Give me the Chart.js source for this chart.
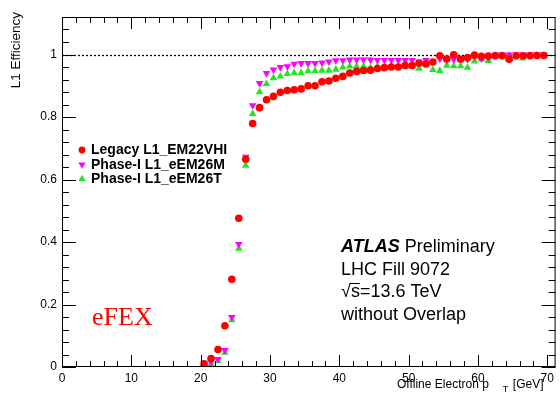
<!DOCTYPE html>
<html>
<head>
<meta charset="utf-8">
<script src="https://cdn.jsdelivr.net/npm/chart.js@4.4.1/dist/chart.umd.min.js"></script>
<style>
    html, body { margin: 0; padding: 0; background: #fff; }
    #eff { display: block; }
</style>
</head>
<body>
<canvas id="eff" width="560" height="398"></canvas>
<script>
// Offline electron pT bin centres [GeV]
var ptBins = [20.5, 21.5, 22.5, 23.5, 24.5, 25.5, 26.5, 27.5, 28.5, 29.5,
    30.5, 31.5, 32.5, 33.5, 34.5, 35.5, 36.5, 37.5, 38.5, 39.5,
    40.5, 41.5, 42.5, 43.5, 44.5, 45.5, 46.5, 47.5, 48.5, 49.5,
    50.5, 51.5, 52.5, 53.5, 54.5, 55.5, 56.5, 57.5, 58.5, 59.5,
    60.5, 61.5, 62.5, 63.5, 64.5, 65.5, 66.5, 67.5, 68.5, 69.5];

// L1 efficiency per trigger
var legacyEM22VHI = [0.010, 0.027, 0.056, 0.132, 0.281, 0.476, 0.665, 0.779, 0.830, 0.855,
    0.866, 0.879, 0.885, 0.887, 0.890, 0.900, 0.900, 0.913, 0.915, 0.924,
    0.930, 0.941, 0.946, 0.949, 0.950, 0.955, 0.958, 0.960, 0.960, 0.965,
    0.965, 0.972, 0.970, 0.976, 0.996, 0.986, 0.999, 0.985, 0.990, 0.998,
    0.994, 0.995, 0.996, 0.996, 0.985, 0.996, 0.996, 0.996, 0.997, 0.997];
var phase1EM26M = [0.012, 0.016, 0.025, 0.054, 0.159, 0.393, 0.672, 0.837, 0.908, 0.940,
    0.951, 0.959, 0.962, 0.970, 0.972, 0.972, 0.972, 0.974, 0.977, 0.981,
    0.981, 0.983, 0.983, 0.983, 0.983, 0.982, 0.982, 0.982, 0.982, 0.982,
    0.982, 0.977, 0.982, 0.977, 0.986, 0.984, 0.984, 0.988, 0.985, 0.993,
    0.987, 0.990, 0.999, 0.999, 0.999, 0.999, 0.999, 0.999, 0.999, 0.999];
var phase1EM26T = [0.006, 0.010, 0.019, 0.046, 0.150, 0.379, 0.645, 0.810, 0.880, 0.906,
    0.925, 0.930, 0.938, 0.941, 0.941, 0.947, 0.947, 0.949, 0.949, 0.952,
    0.959, 0.962, 0.962, 0.962, 0.958, 0.962, 0.958, 0.962, 0.960, 0.962,
    0.962, 0.955, 0.972, 0.951, 0.948, 0.965, 0.963, 0.963, 0.958, 0.978,
    0.985, 0.980, 0.997, 0.997, 0.997, 0.997, 0.988, 0.997, 0.997, 0.997];

// axis labels
var xTickValues = [0, 10, 20, 30, 40, 50, 60, 70];
var yTickValues = [0, 0.2, 0.4, 0.6, 0.8, 1];

var seriesNames = ["Legacy L1_EM22VHI", "Phase-I L1_eEM26M", "Phase-I L1_eEM26T"];

var RED = "#ff0000", MAGENTA = "#ff00ff", GREEN = "#22e622";
var SANS = "'Liberation Sans', Arial, Helvetica, sans-serif";

function toPoints(vals) {
    return ptBins.map(function (x, i) { return { x: x, y: vals[i] }; });
}

// small helper for a ROOT-like marker
function marker(ctx, style, x, y, r, color) {
    ctx.fillStyle = color;
    ctx.beginPath();
    if (style === "circle") {
        ctx.arc(x, y, r, 0, Math.PI * 2);
    } else {
        var s = style === "down" ? -1 : 1;
        ctx.moveTo(x, y - s * r);
        ctx.lineTo(x + r * 0.866, y + s * r * 0.5);
        ctx.lineTo(x - r * 0.866, y + s * r * 0.5);
        ctx.closePath();
    }
    ctx.fill();
}

// dotted line at efficiency = 1, under the markers
var unityLine = {
    id: "unityLine",
    beforeDatasetsDraw: function (chart) {
        var ctx = chart.ctx, a = chart.chartArea;
        var py = Math.round(chart.scales.y.getPixelForValue(1)) + 0.5;
        ctx.save();
        ctx.strokeStyle = "#000";
        ctx.lineWidth = 1.3;
        ctx.setLineDash([2, 2]);
        ctx.beginPath();
        ctx.moveTo(a.left, py);
        ctx.lineTo(a.right, py);
        ctx.stroke();
        ctx.restore();
    }
};

// frame, inward ticks on all four sides, titles, legend and labels
var rootDecor = {
    id: "rootDecor",
    afterDraw: function (chart) {
        var ctx = chart.ctx, a = chart.chartArea;
        var xs = chart.scales.x, ys = chart.scales.y;
        ctx.save();
        ctx.strokeStyle = "#000";
        ctx.lineWidth = 1;
        ctx.strokeRect(a.left + 0.5, a.top + 0.5, a.right - a.left - 1, a.bottom - a.top - 1);

        ctx.beginPath();
        for (var i = 0; i * 2 <= xs.max; i++) {
            var px = Math.round(xs.getPixelForValue(i * 2)) + 0.5;
            var len = i % 5 === 0 ? 12 : 6;
            ctx.moveTo(px, a.bottom); ctx.lineTo(px, a.bottom - len);
            ctx.moveTo(px, a.top); ctx.lineTo(px, a.top + len);
        }
        for (var j = 0; j * 0.04 <= ys.max + 1e-9; j++) {
            var py = Math.round(ys.getPixelForValue(j * 0.04)) + 0.5;
            var ylen = j % 5 === 0 ? 14 : 7;
            ctx.moveTo(a.left, py); ctx.lineTo(a.left + ylen, py);
            ctx.moveTo(a.right, py); ctx.lineTo(a.right - ylen, py);
        }
        ctx.stroke();

        ctx.fillStyle = "#000";
        // x title, right aligned under the axis
        ctx.font = "12px " + SANS;
        ctx.textBaseline = "alphabetic";
        ctx.textAlign = "left";
        var tx = 397, ty = 388;
        ctx.fillText("Offline Electron p", tx, ty);
        tx += ctx.measureText("Offline Electron p").width + 14;
        ctx.font = "9px " + SANS;
        ctx.fillText("T", tx, ty + 4);
        ctx.font = "12px " + SANS;
        ctx.fillText("[GeV]", tx + 10, ty);

        // y title, rotated
        ctx.save();
        ctx.translate(20, 12);
        ctx.rotate(-Math.PI / 2);
        ctx.textAlign = "right";
        ctx.font = "13.5px " + SANS;
        ctx.fillText("L1 Efficiency", 0, 0);
        ctx.restore();

        // legend
        var styles = ["circle", "down", "up"], colors = [RED, MAGENTA, GREEN];
        var rows = [150, 164.5, 179];
        ctx.font = "bold 14px " + SANS;
        ctx.textBaseline = "middle";
        for (var k = 0; k < seriesNames.length; k++) {
            marker(ctx, styles[k], 82, rows[k], styles[k] === "circle" ? 3.4 : 4.2, colors[k]);
            ctx.fillStyle = "#000";
            ctx.fillText(seriesNames[k], 91, rows[k] + 0.5);
        }

        // ATLAS label block
        ctx.textBaseline = "alphabetic";
        var lx = 341;
        ctx.font = "italic bold 18px " + SANS;
        ctx.fillText("ATLAS", lx, 252);
        var aw = ctx.measureText("ATLAS").width;
        ctx.font = "18px " + SANS;
        ctx.fillText("Preliminary", lx + aw + 5, 252);
        ctx.fillText("LHC Fill 9072", lx, 274.5);
        ctx.fillText("\u221As=13.6 TeV", lx, 297);
        var rw = ctx.measureText("\u221A").width, sw = ctx.measureText("s").width;
        ctx.beginPath();
        ctx.moveTo(lx + rw - 1, 283.5);
        ctx.lineTo(lx + rw + sw, 283.5);
        ctx.stroke();
        ctx.fillText("without Overlap", lx, 319.5);

        // eFEX tag
        ctx.fillStyle = RED;
        ctx.font = "26px 'Liberation Serif', 'Times New Roman', serif";
        ctx.fillText("eFEX", 92, 325);
        ctx.restore();
    }
};

Chart.defaults.font.family = SANS;
Chart.defaults.color = "#000";

function plainLabel(v) { return String(Number(v.toFixed(2))); }

new Chart(document.getElementById("eff"), {
    type: "scatter",
    data: {
        datasets: [
            { label: seriesNames[0], data: toPoints(legacyEM22VHI), pointStyle: "circle",
              pointRadius: 3.8, backgroundColor: RED, borderWidth: 0 },
            { label: seriesNames[1], data: toPoints(phase1EM26M), pointStyle: "triangle",
              pointRotation: 180, pointRadius: 4.4, backgroundColor: MAGENTA, borderWidth: 0 },
            { label: seriesNames[2], data: toPoints(phase1EM26T), pointStyle: "triangle",
              pointRadius: 4.4, backgroundColor: GREEN, borderWidth: 0 }
        ]
    },
    options: {
        responsive: false,
        animation: false,
        devicePixelRatio: 1,
        layout: { padding: { top: 17, right: 0, left: 0, bottom: 0 } },
        plugins: { legend: { display: false }, tooltip: { enabled: false } },
        elements: { point: { hoverRadius: 4 } },
        scales: {
            x: {
                type: "linear", min: 0, max: 71.2,
                grid: { display: false, drawTicks: false }, border: { display: false },
                ticks: { font: { size: 12 }, padding: 4, maxRotation: 0, autoSkip: false,
                         includeBounds: false, callback: plainLabel },
                afterBuildTicks: function (s) { s.ticks = xTickValues.map(function (v) { return { value: v }; }); },
                afterFit: function (s) { s.height = 31; }
            },
            y: {
                type: "linear", min: 0, max: 1.12,
                grid: { display: false, drawTicks: false }, border: { display: false },
                ticks: { font: { size: 12 }, padding: 5, autoSkip: false,
                         includeBounds: false, callback: plainLabel },
                afterBuildTicks: function (s) { s.ticks = yTickValues.map(function (v) { return { value: v }; }); },
                afterFit: function (s) { s.width = 62; }
            }
        }
    },
    plugins: [unityLine, rootDecor]
});
</script>
</body>
</html>
